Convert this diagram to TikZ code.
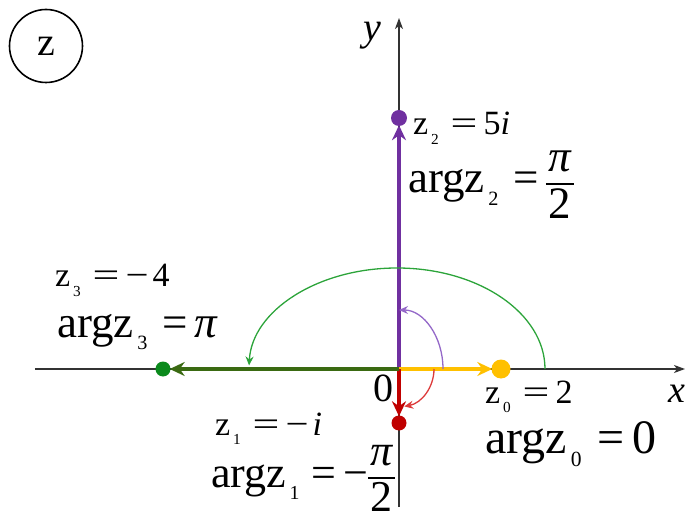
\documentclass[tikz,border=0pt]{standalone}
\usepackage{fontspec}
\setmainfont{Liberation Serif}
\usetikzlibrary{arrows.meta,positioning}
\definecolor{VecPurple}{HTML}{7030A0}
\definecolor{ArcPurple}{HTML}{9468C8}
\definecolor{VecYellow}{HTML}{FFC000}
\definecolor{VecRed}{HTML}{C00000}
\definecolor{ArcRed}{HTML}{DD3A3A}
\definecolor{VecGreen}{HTML}{3A6A12}
\definecolor{DotGreen}{HTML}{0B8A1C}
\definecolor{ArcGreen}{HTML}{2CA43A}
\definecolor{AxisGray}{HTML}{333333}
\newcommand{\idx}[1]{\hspace{0.08em}\raisebox{-0.28em}{\scalebox{0.45}{#1}}}
\newcommand{\zeq}{\hspace{0.35em}\scalebox{1.4}[1]{=}\hspace{0.18em}}
\newcommand{\aeq}{\hspace{0.33em}=\hspace{0.16em}}
\newcommand{\zneg}{\scalebox{1.2}[1]{−}\hspace{0.12em}}
\newcommand{\fr}[2]{{\setlength{\arrayrulewidth}{1.3pt}\renewcommand{\arraystretch}{0.85}%
  \begin{tabular}{@{\hspace{0.06em}}c@{\hspace{0.06em}}}#1\\\hline\rule{0pt}{0.75em}#2\end{tabular}}}

\begin{document}
\begin{tikzpicture}[x=1pt, y=1pt,
    zlbl/.style={anchor=base west, inner sep=0pt, font=\fontsize{34}{36}\selectfont},
    arglbl/.style={anchor=base west, inner sep=0pt, font=\fontsize{45}{47}\selectfont},
    axis/.style={draw=AxisGray, line width=1.3pt, -{Stealth[length=11pt, width=8pt, inset=3pt]}},
    vec/.style={line width=4.5pt, -{Stealth[length=15pt, width=14pt, inset=5pt]}, shorten >=-1pt},
    argarc/.style={line width=1.3pt, -{Stealth[length=9pt, width=8pt, inset=3pt]}},
    dot/.style={circle, inner sep=0pt, minimum size=16pt}
]
\useasboundingbox (-399,-153) rectangle (288,369);
% axes
\coordinate (o) at (0,0);
\coordinate (xl) at (-364,0);
\coordinate (xr) at (286,0);
\coordinate (yb) at (0,-138);
\coordinate (yt) at (0,351);
\draw[axis] (xl) -- (xr);
\draw[axis] (yb) -- (yt);
\node[font=\fontsize{38}{38}\selectfont\itshape] (xname) at (278,-25) {x};
\node[font=\fontsize{40}{40}\selectfont\itshape] (yname) at (-27,333) {y};
\node[font=\fontsize{40}{40}\selectfont] (oname) at (-16,-19) {0};
\node[draw, circle, line width=1.6pt, minimum size=73pt, font=\fontsize{40}{40}\selectfont] (zc) at (-353,323) {z};
% points
\node[dot, fill=VecPurple] (z2) at (0,251) {};
\node[dot, fill=VecYellow, minimum size=19pt] (z0) at (102,0) {};
\node[dot, fill=VecRed, minimum size=15pt] (z1) at (0,-54) {};
\node[dot, fill=DotGreen, minimum size=15pt] (z3) at (-236,0) {};
% vectors
\draw[vec, VecPurple] (o) -- (z2);
\draw[vec, VecYellow] (o) -- (z0);
\draw[vec, VecRed, line width=3.5pt] (o) -- (z1);
\draw[vec, VecGreen] (o) -- (z3);
% arguments
\coordinate (g0) at (146,0);
\coordinate (p0) at (44,0);
\coordinate (r0) at (35,0);
\draw[argarc, ArcGreen] (g0) arc[start angle=0, end angle=178, x radius=148, y radius=101];
\draw[argarc, ArcPurple] (p0) arc[start angle=0, end angle=90, x radius=44, y radius=59];
\draw[argarc, ArcRed] (r0) arc[start angle=0, end angle=-80, x radius=36, y radius=38];
% labels
\node[zlbl] (z2lbl) at (14,234) {z\idx{2}\zeq5\textit{i}};
\node[arglbl] (a2lbl) at (9,176) {argz\idx{2}\aeq\fr{\itshape π}{2}};
\node[zlbl] (z3lbl) at (-344,82) {z\idx{3}\zeq\zneg4};
\node[arglbl] (a3lbl) at (-342,32) {argz\idx{3}\aeq\textit{π}};
\node[zlbl] (z0lbl) at (86,-34) {z\idx{0}\zeq2};
\node[arglbl, font=\fontsize{48}{50}\selectfont] (a0lbl) at (86,-84) {argz\idx{0}\aeq0};
\node[zlbl] (z1lbl) at (-184,-66) {z\idx{1}\zeq\zneg\textit{i}};
\node[arglbl, font=\fontsize{44}{46}\selectfont] (a1lbl) at (-188,-118) {argz\idx{1}\hspace{-0.06em}\aeq−\fr{\itshape π}{2}};
\end{tikzpicture}
\end{document}
